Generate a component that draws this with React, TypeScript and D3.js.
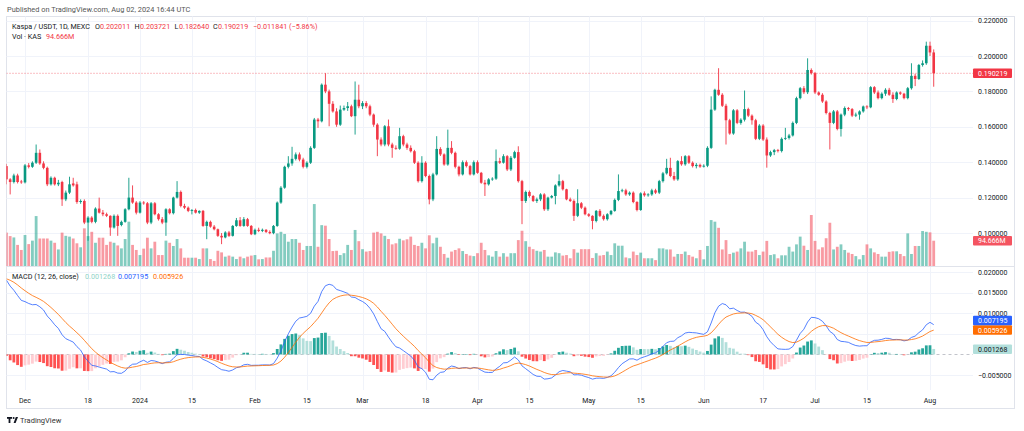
import React from "react";
import * as d3 from "d3";

// ---------------- DATA ----------------
// Daily candles Kaspa / USDT (MEXC), first candle 2023-11-26, last 2024-08-02
const FIRST_DAY = Date.UTC(2023, 10, 26);
const DAY_MS = 86400000;

const opens = [
  0.1378, 0.1303, 0.1288, 0.1325, 0.1291, 0.1286, 0.1382, 0.1374, 0.1397, 0.1453,
  0.1393, 0.1368, 0.1275, 0.1312, 0.1275, 0.1288, 0.1190, 0.1228, 0.1280, 0.1275,
  0.1175, 0.1181, 0.1059, 0.1087, 0.1063, 0.1138, 0.1115, 0.1106, 0.1097, 0.1031,
  0.1097, 0.1045, 0.1063, 0.1134, 0.1200, 0.1172, 0.1115, 0.1172, 0.1168, 0.1059,
  0.1168, 0.1106, 0.1078, 0.1059, 0.1134, 0.1112, 0.1200, 0.1232, 0.1153, 0.1143,
  0.1125, 0.1130, 0.1115, 0.1125, 0.1040, 0.1063, 0.1036, 0.1021, 0.0984, 0.0975,
  0.1003, 0.0984, 0.1040, 0.1072, 0.1040, 0.1078, 0.1040, 0.0993, 0.1018, 0.1012,
  0.1018, 0.1006, 0.0999, 0.1040, 0.1172, 0.1256, 0.1374, 0.1393, 0.1419, 0.1444,
  0.1415, 0.1374, 0.1397, 0.1481, 0.1641, 0.1631, 0.1838, 0.1800, 0.1730, 0.1687,
  0.1612, 0.1697, 0.1706, 0.1716, 0.1660, 0.1753, 0.1716, 0.1734, 0.1716, 0.1669,
  0.1612, 0.1528, 0.1500, 0.1603, 0.1500, 0.1481, 0.1476, 0.1547, 0.1500, 0.1481,
  0.1462, 0.1397, 0.1293, 0.1397, 0.1322, 0.1190, 0.1331, 0.1475, 0.1444, 0.1387,
  0.1481, 0.1453, 0.1374, 0.1331, 0.1400, 0.1378, 0.1331, 0.1400, 0.1340, 0.1284,
  0.1275, 0.1303, 0.1307, 0.1406, 0.1397, 0.1434, 0.1359, 0.1425, 0.1457, 0.1293,
  0.1181, 0.1232, 0.1209, 0.1181, 0.1190, 0.1218, 0.1134, 0.1200, 0.1209, 0.1269,
  0.1293, 0.1247, 0.1190, 0.1181, 0.1097, 0.1168, 0.1143, 0.1106, 0.1097, 0.1068,
  0.1125, 0.1097, 0.1078, 0.1106, 0.1125, 0.1187, 0.1237, 0.1241, 0.1218, 0.1228,
  0.1175, 0.1130, 0.1224, 0.1213, 0.1218, 0.1241, 0.1228, 0.1293, 0.1337, 0.1368,
  0.1322, 0.1303, 0.1406, 0.1388, 0.1434, 0.1397, 0.1378, 0.1385, 0.1375, 0.1380,
  0.1481, 0.1697, 0.1809, 0.1781, 0.1719, 0.1637, 0.1562, 0.1693, 0.1622, 0.1640,
  0.1700, 0.1663, 0.1637, 0.1532, 0.1607, 0.1528, 0.1438, 0.1457, 0.1468, 0.1463,
  0.1532, 0.1537, 0.1551, 0.1622, 0.1762, 0.1818, 0.1795, 0.1921, 0.1903, 0.1794,
  0.1781, 0.1743, 0.1678, 0.1622, 0.1687, 0.1588, 0.1669, 0.1706, 0.1700, 0.1663,
  0.1669, 0.1687, 0.1715, 0.1710, 0.1824, 0.1794, 0.1762, 0.1787, 0.1809, 0.1781,
  0.1757, 0.1794, 0.1787, 0.1762, 0.1818, 0.1888, 0.1870, 0.1949, 0.1959, 0.2058,
  0.202011,
];
const highs = [
  0.1390, 0.1310, 0.1335, 0.1335, 0.1300, 0.1390, 0.1395, 0.1405, 0.1500, 0.1472,
  0.1405, 0.1375, 0.1320, 0.1318, 0.1300, 0.1295, 0.1240, 0.1318, 0.1312, 0.1290,
  0.1190, 0.1190, 0.1095, 0.1095, 0.1145, 0.1200, 0.1130, 0.1115, 0.1100, 0.1105,
  0.1105, 0.1070, 0.1140, 0.1312, 0.1269, 0.1180, 0.1180, 0.1180, 0.1175, 0.1175,
  0.1175, 0.1112, 0.1090, 0.1140, 0.1140, 0.1205, 0.1293, 0.1240, 0.1165, 0.1150,
  0.1135, 0.1138, 0.1128, 0.1130, 0.1070, 0.1070, 0.1045, 0.1025, 0.1000, 0.1010,
  0.1012, 0.1045, 0.1085, 0.1090, 0.1090, 0.1085, 0.1045, 0.1025, 0.1030, 0.1025,
  0.1022, 0.1015, 0.1045, 0.1178, 0.1265, 0.1380, 0.1434, 0.1487, 0.1455, 0.1455,
  0.1425, 0.1405, 0.1490, 0.1650, 0.1650, 0.1845, 0.1903, 0.1810, 0.1745, 0.1705,
  0.1720, 0.1720, 0.1740, 0.1725, 0.1856, 0.1838, 0.1745, 0.1745, 0.1725, 0.1675,
  0.1620, 0.1540, 0.1610, 0.1641, 0.1510, 0.1495, 0.1594, 0.1555, 0.1510, 0.1495,
  0.1470, 0.1405, 0.1434, 0.1405, 0.1330, 0.1340, 0.1547, 0.1485, 0.1450, 0.1584,
  0.1519, 0.1460, 0.1380, 0.1410, 0.1410, 0.1385, 0.1410, 0.1410, 0.1345, 0.1300,
  0.1310, 0.1315, 0.1472, 0.1425, 0.1445, 0.1440, 0.1435, 0.1465, 0.1490, 0.1300,
  0.1240, 0.1240, 0.1215, 0.1200, 0.1225, 0.1225, 0.1205, 0.1215, 0.1275, 0.1331,
  0.1300, 0.1250, 0.1200, 0.1190, 0.1247, 0.1175, 0.1150, 0.1112, 0.1100, 0.1130,
  0.1135, 0.1105, 0.1112, 0.1130, 0.1195, 0.1331, 0.1250, 0.1250, 0.1235, 0.1235,
  0.1180, 0.1230, 0.1235, 0.1225, 0.1250, 0.1250, 0.1300, 0.1345, 0.1419, 0.1425,
  0.1345, 0.1412, 0.1434, 0.1440, 0.1440, 0.1405, 0.1395, 0.1392, 0.1388, 0.1490,
  0.1772, 0.1815, 0.1931, 0.1790, 0.1730, 0.1645, 0.1700, 0.1700, 0.1648, 0.1805,
  0.1708, 0.1670, 0.1645, 0.1615, 0.1615, 0.1540, 0.1465, 0.1475, 0.1475, 0.1540,
  0.1594, 0.1560, 0.1630, 0.1770, 0.1825, 0.1830, 0.1987, 0.1930, 0.1910, 0.1800,
  0.1790, 0.1750, 0.1685, 0.1695, 0.1695, 0.1675, 0.1715, 0.1712, 0.1706, 0.1680,
  0.1693, 0.1720, 0.1722, 0.1830, 0.1830, 0.1805, 0.1795, 0.1818, 0.1820, 0.1795,
  0.1800, 0.1800, 0.1792, 0.1825, 0.1959, 0.1900, 0.1955, 0.1975, 0.2081, 0.2081,
  0.203721,
];
const lows = [
  0.1275, 0.1218, 0.1280, 0.1280, 0.1278, 0.1280, 0.1365, 0.1368, 0.1390, 0.1385,
  0.1360, 0.1265, 0.1268, 0.1268, 0.1265, 0.1153, 0.1180, 0.1220, 0.1262, 0.1165,
  0.1165, 0.1050, 0.0956, 0.1055, 0.1055, 0.1110, 0.1095, 0.1090, 0.0984, 0.1025,
  0.0984, 0.1038, 0.1058, 0.1128, 0.1165, 0.1105, 0.1110, 0.1160, 0.1050, 0.1050,
  0.1100, 0.1070, 0.1050, 0.0984, 0.1105, 0.1105, 0.1195, 0.1145, 0.1135, 0.1118,
  0.1105, 0.1110, 0.1108, 0.1035, 0.0965, 0.1030, 0.1015, 0.0978, 0.0937, 0.0970,
  0.0978, 0.0980, 0.1035, 0.1035, 0.1035, 0.1035, 0.0988, 0.0988, 0.1005, 0.1005,
  0.1000, 0.0993, 0.0993, 0.1035, 0.1165, 0.1250, 0.1365, 0.1380, 0.1410, 0.1405,
  0.1365, 0.1365, 0.1390, 0.1475, 0.1594, 0.1625, 0.1790, 0.1603, 0.1680, 0.1600,
  0.1605, 0.1690, 0.1690, 0.1655, 0.1556, 0.1705, 0.1700, 0.1705, 0.1660, 0.1600,
  0.1434, 0.1490, 0.1490, 0.1490, 0.1425, 0.1470, 0.1470, 0.1490, 0.1470, 0.1455,
  0.1390, 0.1285, 0.1285, 0.1315, 0.1162, 0.1180, 0.1325, 0.1435, 0.1380, 0.1380,
  0.1445, 0.1365, 0.1320, 0.1325, 0.1370, 0.1325, 0.1325, 0.1335, 0.1278, 0.1209,
  0.1268, 0.1295, 0.1300, 0.1390, 0.1392, 0.1350, 0.1350, 0.1420, 0.1285, 0.1050,
  0.1170, 0.1200, 0.1175, 0.1170, 0.1180, 0.1125, 0.1125, 0.1195, 0.1162, 0.1262,
  0.1240, 0.1185, 0.1175, 0.1068, 0.1090, 0.1135, 0.1100, 0.1090, 0.1021, 0.1060,
  0.1090, 0.1070, 0.1070, 0.1100, 0.1120, 0.1180, 0.1230, 0.1210, 0.1210, 0.1168,
  0.1122, 0.1125, 0.1205, 0.1205, 0.1210, 0.1220, 0.1220, 0.1285, 0.1330, 0.1315,
  0.1295, 0.1295, 0.1380, 0.1380, 0.1390, 0.1370, 0.1365, 0.1368, 0.1370, 0.1372,
  0.1475, 0.1690, 0.1775, 0.1712, 0.1500, 0.1555, 0.1555, 0.1615, 0.1612, 0.1630,
  0.1655, 0.1612, 0.1525, 0.1525, 0.1520, 0.1369, 0.1430, 0.1440, 0.1455, 0.1455,
  0.1525, 0.1528, 0.1545, 0.1615, 0.1755, 0.1785, 0.1785, 0.1895, 0.1785, 0.1775,
  0.1735, 0.1670, 0.1472, 0.1615, 0.1580, 0.1545, 0.1660, 0.1690, 0.1655, 0.1655,
  0.1640, 0.1680, 0.1700, 0.1705, 0.1785, 0.1755, 0.1755, 0.1775, 0.1775, 0.1735,
  0.1750, 0.1780, 0.1755, 0.1755, 0.1810, 0.1830, 0.1865, 0.1940, 0.1950, 0.2000,
  0.182640,
];
const closes = [
  0.1303, 0.1288, 0.1325, 0.1288, 0.1286, 0.1382, 0.1374, 0.1397, 0.1453, 0.1393,
  0.1368, 0.1275, 0.1312, 0.1275, 0.1284, 0.1190, 0.1228, 0.1275, 0.1269, 0.1175,
  0.1181, 0.1059, 0.1087, 0.1063, 0.1138, 0.1115, 0.1106, 0.1097, 0.1031, 0.1097,
  0.1040, 0.1063, 0.1134, 0.1200, 0.1172, 0.1115, 0.1172, 0.1168, 0.1059, 0.1168,
  0.1106, 0.1078, 0.1059, 0.1134, 0.1112, 0.1200, 0.1232, 0.1153, 0.1143, 0.1125,
  0.1130, 0.1115, 0.1125, 0.1040, 0.1063, 0.1036, 0.1021, 0.0984, 0.0975, 0.1003,
  0.0984, 0.1040, 0.1072, 0.1040, 0.1078, 0.1040, 0.0993, 0.1018, 0.1012, 0.1018,
  0.1006, 0.0999, 0.1040, 0.1172, 0.1256, 0.1374, 0.1393, 0.1419, 0.1444, 0.1415,
  0.1374, 0.1397, 0.1481, 0.1641, 0.1631, 0.1838, 0.1800, 0.1730, 0.1687, 0.1612,
  0.1697, 0.1706, 0.1716, 0.1660, 0.1753, 0.1716, 0.1734, 0.1716, 0.1669, 0.1612,
  0.1528, 0.1500, 0.1603, 0.1500, 0.1481, 0.1476, 0.1547, 0.1500, 0.1481, 0.1462,
  0.1397, 0.1293, 0.1397, 0.1322, 0.1190, 0.1331, 0.1475, 0.1444, 0.1387, 0.1481,
  0.1453, 0.1374, 0.1331, 0.1400, 0.1378, 0.1331, 0.1400, 0.1340, 0.1284, 0.1275,
  0.1303, 0.1307, 0.1406, 0.1397, 0.1434, 0.1359, 0.1425, 0.1457, 0.1293, 0.1181,
  0.1232, 0.1209, 0.1181, 0.1190, 0.1218, 0.1134, 0.1200, 0.1209, 0.1269, 0.1293,
  0.1247, 0.1190, 0.1181, 0.1097, 0.1168, 0.1143, 0.1106, 0.1097, 0.1068, 0.1125,
  0.1097, 0.1078, 0.1106, 0.1125, 0.1187, 0.1237, 0.1241, 0.1218, 0.1228, 0.1175,
  0.1130, 0.1224, 0.1213, 0.1218, 0.1241, 0.1228, 0.1293, 0.1337, 0.1368, 0.1322,
  0.1303, 0.1406, 0.1388, 0.1434, 0.1397, 0.1378, 0.1385, 0.1375, 0.1380, 0.1481,
  0.1697, 0.1809, 0.1781, 0.1719, 0.1637, 0.1562, 0.1693, 0.1622, 0.1640, 0.1700,
  0.1663, 0.1637, 0.1532, 0.1607, 0.1528, 0.1438, 0.1457, 0.1468, 0.1463, 0.1532,
  0.1537, 0.1551, 0.1622, 0.1762, 0.1818, 0.1795, 0.1921, 0.1903, 0.1794, 0.1781,
  0.1743, 0.1678, 0.1622, 0.1687, 0.1588, 0.1669, 0.1706, 0.1700, 0.1663, 0.1669,
  0.1687, 0.1715, 0.1710, 0.1824, 0.1794, 0.1762, 0.1787, 0.1809, 0.1781, 0.1757,
  0.1794, 0.1787, 0.1762, 0.1818, 0.1888, 0.1870, 0.1949, 0.1959, 0.2058, 0.2020,
  0.190219,
];
// volume in millions of KAS
const volumesM = [
  125, 112, 107, 79, 60, 116, 82, 95, 187, 103,
  103, 103, 95, 87, 62, 125, 113, 110, 103, 85,
  70, 141, 112, 128, 87, 106, 106, 79, 91, 87,
  77, 66, 101, 166, 79, 60, 41, 65, 106, 66,
  91, 41, 41, 95, 87, 75, 101, 66, 31, 31,
  31, 31, 26, 66, 66, 26, 19, 57, 51, 35,
  39, 35, 26, 35, 29, 35, 39, 41, 25, 26,
  32, 32, 57, 122, 128, 120, 91, 101, 101, 87,
  60, 75, 75, 232, 72, 153, 151, 101, 56, 57,
  41, 48, 79, 60, 135, 93, 63, 54, 56, 125,
  128, 122, 113, 101, 81, 85, 102, 96, 100, 110,
  79, 75, 87, 66, 115, 85, 106, 72, 45, 31,
  54, 60, 66, 56, 45, 39, 37, 48, 87, 60,
  40, 35, 56, 35, 48, 35, 48, 48, 97, 132,
  93, 72, 63, 57, 54, 60, 35, 35, 51, 48,
  39, 41, 29, 63, 50, 63, 63, 63, 30, 48,
  39, 41, 54, 41, 85, 76, 76, 32, 29, 54,
  41, 50, 29, 29, 29, 22, 66, 66, 62, 62,
  35, 45, 45, 54, 41, 35, 29, 60, 25, 75,
  172, 166, 143, 62, 97, 45, 50, 54, 66, 91,
  54, 54, 60, 41, 54, 94, 41, 44, 29, 40,
  40, 72, 54, 81, 110, 76, 60, 191, 94, 62,
  70, 104, 162, 62, 72, 81, 60, 50, 45, 37,
  25, 41, 81, 66, 51, 45, 35, 35, 53, 55,
  55, 45, 37, 122, 45, 75, 75, 131, 128, 126,
  94.666,
];

// Seed state of the 12/26/9 EMAs before the first visible candle (read from the left edge of the MACD pane)
const MACD_SEED_EMA12 = 0.13;
const MACD_SEED_EMA26 = 0.1105;
const MACD_SEED_SIGNAL = 0.0185;

const priceTicks = [0.1, 0.12, 0.14, 0.16, 0.18, 0.2, 0.22];
const macdTicks = [0.02, 0.015, 0.01, 0.005, 0, -0.005];
// tick labels on the MACD scale that are not hidden behind the value boxes
const macdTickLabels = [0.02, 0.015, 0.01, -0.005];
const timeTickDates = [
  [2023, 11, 1], [2023, 11, 18], [2024, 0, 1], [2024, 0, 15], [2024, 1, 1], [2024, 1, 15],
  [2024, 2, 1], [2024, 2, 18], [2024, 3, 1], [2024, 3, 15], [2024, 4, 1], [2024, 4, 15],
  [2024, 5, 1], [2024, 5, 17], [2024, 6, 1], [2024, 6, 15], [2024, 7, 1],
];
const timeTickLabels = ["Dec", "18", "2024", "15", "Feb", "15", "Mar", "18", "Apr", "15", "May", "15", "Jun", "17", "Jul", "15", "Aug"];

const lastPrice = 0.190219;
const lastVolumeLabel = "94.666M";
const macdLegendValues = { hist: 0.001268, macd: 0.007195, signal: 0.005926 };

// ---------------- STYLE ----------------
const UP = "#089981";
const DOWN = "#F23645";
const UP_VOL = "rgba(8,153,129,0.5)";
const DOWN_VOL = "rgba(242,54,69,0.5)";
const MACD_COLOR = "#2962FF";
const SIGNAL_COLOR = "#FF6D00";
const HIST_COLORS = { posUp: "#26A69A", posDown: "#B2DFDB", negUp: "#FFCDD2", negDown: "#FF5252" };
const GRID = "#f0f3fa";
const BORDER = "#e0e3eb";
const TEXT = "#131722";
const FONT = "Roboto, 'Liberation Sans', Arial, sans-serif";

const W = 1024;
const H = 431;
const FRAME = { x0: 6.5, y0: 16.5, x1: 1014.5, y1: 408.5 };
const PLOT_RIGHT = 973;
const MAIN = { top: 16.5, bottom: 266 };
const MACD_PANE = { top: 266, bottom: 390 };
const AXIS_X = 978;

export default function App() {
  const n = closes.length;
  const dates = d3.range(n).map((i) => new Date(FIRST_DAY + i * DAY_MS));

  const x = d3
    .scaleUtc()
    .domain([new Date(Date.UTC(2023, 11, 1)), new Date(Date.UTC(2024, 7, 1))])
    .range([25, 930]);
  const y = d3.scaleLinear().domain([0.1, 0.2]).range([233, 56]);
  const yVol = d3.scaleLinear().domain([0, 100]).range([266, 239.3]);
  const yM = d3.scaleLinear().domain([-0.005, 0.02]).range([375, 272.3]);

  // MACD (12, 26, close), signal 9
  const a12 = 2 / 13, a26 = 2 / 27, a9 = 2 / 10;
  let e12 = MACD_SEED_EMA12, e26 = MACD_SEED_EMA26, sig = MACD_SEED_SIGNAL;
  const macd: number[] = [];
  const signal: number[] = [];
  const hist: number[] = [];
  closes.forEach((c) => {
    e12 += a12 * (c - e12);
    e26 += a26 * (c - e26);
    const m = e12 - e26;
    sig += a9 * (m - sig);
    macd.push(m);
    signal.push(sig);
    hist.push(m - sig);
  });
  const histColor = (i: number) => {
    const h = hist[i];
    const prev = i > 0 ? hist[i - 1] : h;
    if (h >= 0) return prev < h ? HIST_COLORS.posUp : HIST_COLORS.posDown;
    return prev < h ? HIST_COLORS.negUp : HIST_COLORS.negDown;
  };

  const line = d3
    .line<number>()
    .x((_, i) => x(dates[i]))
    .y((v) => yM(v))
    .curve(d3.curveLinear);

  const fmt6 = d3.format(".6f");
  const bodyW = 2.6;
  const barW = 2.8;

  // label boxes on the MACD scale, pushed apart when overlapping
  const boxH = 9.5;
  const macdBoxes = [
    { v: macdLegendValues.macd, color: MACD_COLOR, text: "#fff" },
    { v: macdLegendValues.signal, color: SIGNAL_COLOR, text: "#fff" },
    { v: macdLegendValues.hist, color: "#B2DFDB", text: TEXT },
  ]
    .map((b) => ({ ...b, cy: yM(b.v) }))
    .sort((a, b) => b.cy - a.cy);
  for (let i = 1; i < macdBoxes.length; i++) {
    if (macdBoxes[i - 1].cy - macdBoxes[i].cy < boxH) macdBoxes[i].cy = macdBoxes[i - 1].cy - boxH;
  }

  const legendStyle: React.CSSProperties = { fontFamily: FONT, fontSize: 7.2, whiteSpace: "pre" };

  return (
    <svg
      width={W}
      height={H}
      viewBox={`0 0 ${W} ${H}`}
      style={{ position: "absolute", left: 0, top: 0, background: "#fff" }}
    >
      <defs>
        <clipPath id="mainClip">
          <rect x={FRAME.x0} y={MAIN.top} width={PLOT_RIGHT - FRAME.x0} height={MAIN.bottom - MAIN.top} />
        </clipPath>
        <clipPath id="macdClip">
          <rect x={FRAME.x0} y={MACD_PANE.top} width={PLOT_RIGHT - FRAME.x0} height={MACD_PANE.bottom - MACD_PANE.top} />
        </clipPath>
      </defs>
      <rect x={0} y={0} width={W} height={H} fill="#fff" />

      {/* header */}
      <text x={7} y={12} fill="#555" style={{ fontFamily: FONT, fontSize: 7.4 }}>
        Published on TradingView.com, Aug 02, 2024 16:44 UTC
      </text>

      {/* frame */}
      <rect x={FRAME.x0} y={FRAME.y0} width={FRAME.x1 - FRAME.x0} height={FRAME.y1 - FRAME.y0} fill="none" stroke={BORDER} />

      {/* vertical grid */}
      {timeTickDates.map((d, i) => {
        const xx = Math.round(x(new Date(Date.UTC(d[0], d[1], d[2])))) + 0.5;
        return <line key={"vg" + i} x1={xx} x2={xx} y1={MAIN.top} y2={MACD_PANE.bottom} stroke={GRID} />;
      })}
      {/* horizontal grid main */}
      {priceTicks.map((t) => {
        const yy = Math.round(y(t)) + 0.5;
        return <line key={"hg" + t} x1={FRAME.x0} x2={PLOT_RIGHT} y1={yy} y2={yy} stroke={GRID} />;
      })}
      {macdTicks
        .filter((t) => t !== 0)
        .map((t) => {
          const yy = Math.round(yM(t)) + 0.5;
          return <line key={"mg" + t} x1={FRAME.x0} x2={PLOT_RIGHT} y1={yy} y2={yy} stroke={GRID} />;
        })}

      {/* pane separator */}
      <line x1={FRAME.x0} x2={FRAME.x1} y1={MAIN.bottom + 0.5} y2={MAIN.bottom + 0.5} stroke={BORDER} />

      {/* volume */}
      <g clipPath="url(#mainClip)">
        {volumesM.map((v, i) => {
          const xx = x(dates[i]);
          const up = closes[i] >= opens[i];
          return (
            <rect key={"v" + i} x={xx - barW / 2} y={yVol(v)} width={barW} height={yVol(0) - yVol(v)} fill={up ? UP_VOL : DOWN_VOL} />
          );
        })}
        {/* candles */}
        {closes.map((c, i) => {
          const xx = x(dates[i]);
          const o = opens[i];
          const up = c >= o;
          const col = up ? UP : DOWN;
          const top = y(Math.max(o, c));
          const bot = y(Math.min(o, c));
          return (
            <g key={"c" + i}>
              <line x1={xx} x2={xx} y1={y(highs[i])} y2={y(lows[i])} stroke={col} strokeWidth={0.9} />
              <rect x={xx - bodyW / 2} y={top} width={bodyW} height={Math.max(0.8, bot - top)} fill={col} />
            </g>
          );
        })}
        {/* last price line */}
        <line
          x1={FRAME.x0}
          x2={PLOT_RIGHT}
          y1={y(lastPrice)}
          y2={y(lastPrice)}
          stroke={DOWN}
          strokeWidth={0.8}
          strokeDasharray="1 2"
          opacity={0.8}
        />
      </g>

      {/* MACD pane */}
      <line
        x1={FRAME.x0}
        x2={PLOT_RIGHT}
        y1={Math.round(yM(0)) + 0.5}
        y2={Math.round(yM(0)) + 0.5}
        stroke="#b2b5be"
        strokeDasharray="3 3"
        strokeWidth={0.8}
      />
      <g clipPath="url(#macdClip)">
        {hist.map((h, i) => {
          const xx = x(dates[i]);
          const y0 = yM(0);
          const y1 = yM(h);
          return (
            <rect key={"h" + i} x={xx - barW / 2} y={Math.min(y0, y1)} width={barW} height={Math.abs(y1 - y0)} fill={histColor(i)} />
          );
        })}
        <path d={line(macd) || ""} fill="none" stroke={MACD_COLOR} strokeWidth={1} opacity={0.8} />
        <path d={line(signal) || ""} fill="none" stroke={SIGNAL_COLOR} strokeWidth={1} opacity={0.8} />
      </g>

      {/* legends */}
      <g style={legendStyle}>
        <text x={12} y={28.5} fill={TEXT}>Kaspa / USDT, 1D, MEXC</text>
        <text x={95} y={28.5} fill={TEXT}>O</text>
        <text x={100} y={28.5} fill={DOWN}>0.202011</text>
        <text x={134.5} y={28.5} fill={TEXT}>H</text>
        <text x={140} y={28.5} fill={DOWN}>0.203721</text>
        <text x={174.5} y={28.5} fill={TEXT}>L</text>
        <text x={179} y={28.5} fill={DOWN}>0.182640</text>
        <text x={213} y={28.5} fill={TEXT}>C</text>
        <text x={218} y={28.5} fill={DOWN}>0.190219</text>
        <text x={253} y={28.5} fill={DOWN}>−0.011841 (−5.86%)</text>

        <text x={12} y={38.5} fill={TEXT}>Vol · KAS</text>
        <text x={46} y={38.5} fill={DOWN}>{lastVolumeLabel}</text>

        <text x={12} y={278.5} fill={TEXT}>MACD (12, 26, close)</text>
        <text x={85} y={278.5} fill="#8fd3c8">{fmt6(macdLegendValues.hist)}</text>
        <text x={118} y={278.5} fill={MACD_COLOR}>{fmt6(macdLegendValues.macd)}</text>
        <text x={153} y={278.5} fill={SIGNAL_COLOR}>{fmt6(macdLegendValues.signal)}</text>
      </g>

      {/* price axis labels */}
      <g style={{ fontFamily: FONT, fontSize: 7 }}>
        {priceTicks.map((t) => (
          <text key={"pl" + t} x={AXIS_X} y={y(t) + 2.5} fill={TEXT}>
            {fmt6(t)}
          </text>
        ))}
        {macdTickLabels.map((t) => (
          <text key={"ml" + t} x={AXIS_X} y={yM(t) + 2.5} fill={TEXT}>
            {fmt6(t)}
          </text>
        ))}
        {/* last price box */}
        <rect x={973} y={y(lastPrice) - 4.75} width={39} height={boxH} fill={DOWN} rx={1} />
        <text x={AXIS_X} y={y(lastPrice) + 2.5} fill="#fff">{fmt6(lastPrice)}</text>
        {/* last volume box */}
        <rect x={973} y={yVol(volumesM[n - 1]) - 4.75} width={39} height={boxH} fill={DOWN} opacity={0.85} rx={1} />
        <text x={AXIS_X} y={yVol(volumesM[n - 1]) + 2.5} fill="#fff">{lastVolumeLabel}</text>
        {macdBoxes.map((b, i) => (
          <g key={"mb" + i}>
            <rect x={973} y={b.cy - boxH / 2} width={39} height={boxH} fill={b.color} rx={1} />
            <text x={AXIS_X} y={b.cy + 2.5} fill={b.text}>{fmt6(b.v)}</text>
          </g>
        ))}
      </g>

      {/* time axis */}
      <g style={{ fontFamily: FONT, fontSize: 7 }}>
        {timeTickDates.map((d, i) => (
          <text
            key={"tl" + i}
            x={x(new Date(Date.UTC(d[0], d[1], d[2])))}
            y={402.5}
            fill={TEXT}
            textAnchor="middle"
          >
            {timeTickLabels[i]}
          </text>
        ))}
      </g>

      {/* TradingView logo */}
      <g transform="translate(7,417)" fill={TEXT}>
        <rect x={0} y={0} width={5} height={1.8} />
        <rect x={1.6} y={0} width={1.8} height={6} />
        <circle cx={6.6} cy={1} r={1} />
        <path d="M8.8 0 L11 0 L8.6 6 L6.6 6 Z" />
        <text x={13} y={5.8} style={{ fontFamily: FONT, fontSize: 7.5 }} fill="#333">
          TradingView
        </text>
      </g>
    </svg>
  );
}
